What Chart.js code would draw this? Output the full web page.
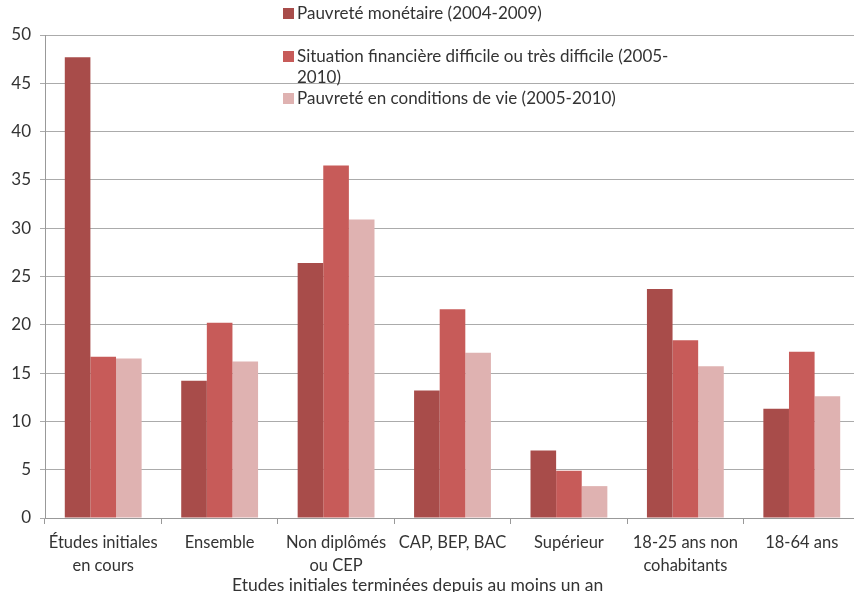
<!DOCTYPE html>
<html>
<head>
<meta charset="utf-8">
<script src="https://cdn.jsdelivr.net/npm/chart.js@4"></script>
<style>
  html, body { margin: 0; padding: 0; background: #fff; overflow: hidden; }
  #wrap { width: 860px; height: 592px; }
</style>
</head>
<body>
<div id="wrap"><canvas id="myChart"></canvas></div>
<script>
// categories
const categories = [
  ['Études initiales', 'en cours'],
  'Ensemble',
  ['Non diplômés', 'ou CEP'],
  'CAP, BEP, BAC',
  'Supérieur',
  ['18-25 ans non', 'cohabitants'],
  '18-64 ans'
];

// series
const pauvreteMonetaire = [47.7, 14.2, 26.4, 13.2, 7.0, 23.7, 11.3];
const situationFinanciere = [16.7, 20.2, 36.5, 21.6, 4.9, 18.4, 17.2];
const conditionsDeVie = [16.5, 16.2, 30.9, 17.1, 3.3, 15.7, 12.6];

const seriesLabels = [
  ['Pauvreté monétaire (2004-2009)'],
  ['Situation financière difficile ou très difficile (2005-', '2010)'],
  ['Pauvreté en conditions de vie (2005-2010)']
];
const subTitle = 'Etudes initiales terminées depuis au moins un an';

const FONT = 'Lato';
const TXT = '#333333';

// legend + sub title drawn by hand (legend sits inside the plot)
const customText = {
  id: 'customText',
  afterDatasetsDraw(chart) {
    const ctx = chart.ctx;
    ctx.save();
    ctx.font = '17px ' + FONT;
    ctx.fillStyle = TXT;
    ctx.textBaseline = 'middle';
    const rows = [14, 57, 99];
    chart.data.datasets.forEach((ds, i) => {
      ctx.fillStyle = ds.backgroundColor;
      ctx.fillRect(283, rows[i] - 6, 11, 11);
      ctx.fillStyle = TXT;
      seriesLabels[i].forEach((line, j) => {
        ctx.fillText(line, 297, rows[i] + j * 21);
      });
    });
    // axis group title
    const x = chart.scales.x.getPixelForValue(2.7);
    ctx.textAlign = 'center';
    ctx.font = '17.5px ' + FONT;
    ctx.fillText(subTitle, x, 585);
    ctx.restore();
  }
};

const data = {
  labels: categories,
  datasets: [
    { label: 'Pauvreté monétaire (2004-2009)', data: pauvreteMonetaire, backgroundColor: '#A84C4A' },
    { label: 'Situation financière difficile ou très difficile (2005-2010)', data: situationFinanciere, backgroundColor: '#C75B59' },
    { label: 'Pauvreté en conditions de vie (2005-2010)', data: conditionsDeVie, backgroundColor: '#DFB2B1' }
  ]
};

const config = {
  type: 'bar',
  data: data,
  plugins: [customText],
  options: {
    responsive: true,
    maintainAspectRatio: false,
    animation: false,
    layout: { padding: { top: 35, right: 0, left: 0, bottom: 0 } },
    datasets: { bar: { categoryPercentage: 0.66, barPercentage: 1 } },
    plugins: { legend: { display: false }, tooltip: { enabled: false } },
    scales: {
      x: {
        grid: { drawOnChartArea: false, drawTicks: true, tickLength: 6, color: '#999', offset: true },
        border: { color: '#999' },
        ticks: { color: TXT, font: { family: FONT, size: 16.5, lineHeight: 1.35 }, padding: 8, maxRotation: 0, autoSkip: false },
        afterFit(s) { s.height = 74; }
      },
      y: {
        min: 0, max: 50,
        grid: { color: '#ABABAB', tickLength: 5 },
        border: { color: '#999' },
        ticks: { stepSize: 5, color: TXT, font: { family: FONT, size: 17 }, padding: 9 },
        afterFit(s) { s.width = 45; }
      }
    }
  }
};

// draw the chart
const myChart = new Chart(document.getElementById('myChart'), config);
</script>
</body>
</html>
